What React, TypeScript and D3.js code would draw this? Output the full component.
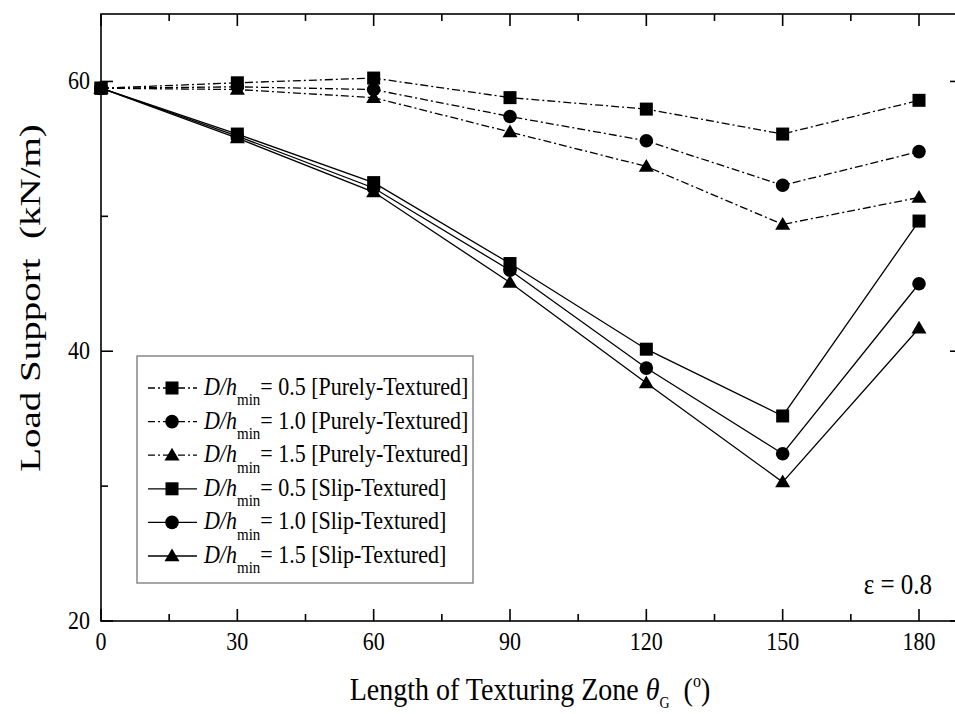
import * as d3 from "d3";

const angles = [0, 30, 60, 90, 120, 150, 180];
const pure05 = [59.5, 59.9, 60.25, 58.8, 57.95, 56.1, 58.6];
const pure10 = [59.5, 59.6, 59.4, 57.4, 55.6, 52.3, 54.8];
const pure15 = [59.5, 59.4, 58.8, 56.25, 53.7, 49.4, 51.4];
const slip05 = [59.5, 56.1, 52.5, 46.5, 40.15, 35.2, 49.65];
const slip10 = [59.5, 55.95, 52.1, 46.0, 38.75, 32.4, 45.0];
const slip15 = [59.5, 55.8, 51.8, 45.1, 37.65, 30.3, 41.7];

const xMajor = [0, 30, 60, 90, 120, 150, 180];
const xMinor = [15, 45, 75, 105, 135, 165];
const yMajor = [20, 40, 60];
const yMinor = [30, 50];

const series = [
  { ratio: "0.5", kind: "Purely-Textured", values: pure05, marker: "square", dashed: true },
  { ratio: "1.0", kind: "Purely-Textured", values: pure10, marker: "circle", dashed: true },
  { ratio: "1.5", kind: "Purely-Textured", values: pure15, marker: "triangle", dashed: true },
  { ratio: "0.5", kind: "Slip-Textured", values: slip05, marker: "square", dashed: false },
  { ratio: "1.0", kind: "Slip-Textured", values: slip10, marker: "circle", dashed: false },
  { ratio: "1.5", kind: "Slip-Textured", values: slip15, marker: "triangle", dashed: false },
];

const W = 955;
const H = 714;
const left = 101;
const right = 962;
const top = 14;
const bottom = 621;
const font = "'Liberation Serif', 'Times New Roman', serif";
const DASH = "8,3,2,3";
const SY = 1.15; // source text looks a bit stretched vertically

function Marker({ type, x, y }: { type: string; x: number; y: number }) {
  if (type === "square") return <rect x={x - 6.5} y={y - 6.5} width={13} height={13} fill="#000" />;
  if (type === "circle") return <circle cx={x} cy={y} r={6.8} fill="#000" />;
  const s = 7.5;
  return <path d={`M${x},${y - s}L${x + s},${y + s * 0.7}L${x - s},${y + s * 0.7}Z`} fill="#000" />;
}

function T({ x, y, children, ...rest }: any) {
  return (
    <g transform={`translate(${x},${y}) scale(1,${SY})`}>
      <text {...rest}>{children}</text>
    </g>
  );
}

export default function App() {
  const x = d3.scaleLinear().domain([0, 180]).range([left, 919]);
  const y = d3.scaleLinear().domain([20, 65]).range([bottom, top]);
  const line = d3
    .line<number>()
    .x((_, i) => x(angles[i]))
    .y((d) => y(d));

  const legX = 137;
  const legY = 356;
  const rowH = 33.6;

  return (
    <div style={{ position: "absolute", left: 0, top: 0 }}>
      <svg width={W} height={H} style={{ display: "block", background: "#fff" }} fontFamily={font}>
        {/* frame */}
        <rect x={left} y={top} width={right - left} height={bottom - top} fill="none" stroke="#000" strokeWidth={1.6} />
        {xMajor.map((t) => (
          <g key={"xM" + t}>
            <line x1={x(t)} x2={x(t)} y1={bottom} y2={bottom - 12} stroke="#000" strokeWidth={1.6} />
            <line x1={x(t)} x2={x(t)} y1={top} y2={top + 12} stroke="#000" strokeWidth={1.6} />
            <T x={x(t)} y={650} textAnchor="middle" fontSize={22}>{t}</T>
          </g>
        ))}
        {xMinor.map((t) => (
          <g key={"xm" + t}>
            <line x1={x(t)} x2={x(t)} y1={bottom} y2={bottom - 7} stroke="#000" strokeWidth={1.6} />
            <line x1={x(t)} x2={x(t)} y1={top} y2={top + 7} stroke="#000" strokeWidth={1.6} />
          </g>
        ))}
        {yMajor.map((t) => (
          <g key={"yM" + t}>
            <line x1={left} x2={left + 12} y1={y(t)} y2={y(t)} stroke="#000" strokeWidth={1.6} />
            <line x1={right} x2={right - 12} y1={y(t)} y2={y(t)} stroke="#000" strokeWidth={1.6} />
            <T x={90} y={y(t) + 8} textAnchor="end" fontSize={22}>{t}</T>
          </g>
        ))}
        {yMinor.map((t) => (
          <g key={"ym" + t}>
            <line x1={left} x2={left + 7} y1={y(t)} y2={y(t)} stroke="#000" strokeWidth={1.6} />
            <line x1={right} x2={right - 7} y1={y(t)} y2={y(t)} stroke="#000" strokeWidth={1.6} />
          </g>
        ))}

        {/* series */}
        {series.map((s, i) => (
          <g key={"s" + i}>
            <path d={line(s.values) || ""} fill="none" stroke="#000" strokeWidth={1.3} strokeDasharray={s.dashed ? DASH : undefined} />
            {s.values.map((v, j) => (
              <Marker key={j} type={s.marker} x={x(angles[j])} y={y(v)} />
            ))}
          </g>
        ))}

        {/* legend */}
        <rect x={legX} y={legY} width={336} height={227} fill="#fff" stroke="#888" strokeWidth={1.5} />
        {series.map((s, i) => {
          const cy = legY + 32 + i * rowH;
          return (
            <g key={"l" + i}>
              <line x1={148} x2={197} y1={cy} y2={cy} stroke="#000" strokeWidth={1.3} strokeDasharray={s.dashed ? "7,3,2,3" : undefined} />
              <Marker type={s.marker} x={172} y={cy} />
              <T x={204} y={cy + 7} fontSize={22}>
                <tspan fontStyle="italic">D/h</tspan>
                <tspan fontSize={15} dy={9}>min</tspan>
                <tspan dy={-9}>{`= ${s.ratio} [${s.kind}]`}</tspan>
              </T>
            </g>
          );
        })}

        <T x={932} y={594} textAnchor="end" fontSize={25}>ε = 0.8</T>

        {/* axis titles */}
        <g transform={`translate(40,298) rotate(-90) scale(1.3,1)`}>
          <text textAnchor="middle" fontSize={30} style={{ whiteSpace: "pre" }}>
            {"Load Support  (kN/m)"}
          </text>
        </g>
        <T x={530} y={700} textAnchor="middle" fontSize={28} style={{ whiteSpace: "pre" }}>
          <tspan>Length of Texturing Zone </tspan>
          <tspan fontStyle="italic">θ</tspan>
          <tspan fontSize={14} dy={7}>G</tspan>
          <tspan dy={-7}>{"  ("}</tspan>
          <tspan fontSize={16} dy={-11}>o</tspan>
          <tspan dy={11}>)</tspan>
        </T>
      </svg>
    </div>
  );
}
